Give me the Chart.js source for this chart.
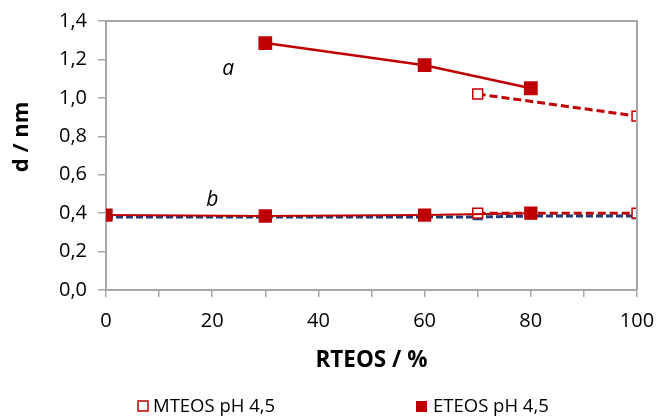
<!DOCTYPE html>
<html>
<head>
<meta charset="utf-8">
<script src="https://cdn.jsdelivr.net/npm/chart.js@4/dist/chart.umd.min.js"></script>
<style>
  body { margin: 0; background: #fff; }
  #wrap { width: 658px; height: 416px; }
</style>
</head>
<body>
<div id="wrap"><canvas id="pore-chart" width="658" height="416"></canvas></div>
<script>
// series a (upper branch)
var etA_x = [30, 60, 80];
var etA_y = [1.285, 1.17, 1.05];
var mtA_x = [70, 100];
var mtA_y = [1.02, 0.905];
// series b (lower branch)
var etB_x = [0, 30, 60, 80];
var etB_y = [0.39, 0.385, 0.39, 0.40];
var mtB_x = [70, 100];
var mtB_y = [0.40, 0.40];
var blue_x = [0, 30, 60, 70, 80, 100];
var blue_y = [0.38, 0.38, 0.38, 0.38, 0.385, 0.385];

var legendNames = ["MTEOS pH 4,5", "ETEOS pH 4,5"];
var xTicks = [0, 20, 40, 60, 80, 100];

var RED = "#c00000";
var NAVY = "#1f3b7a";
var AXIS = "#a6a6a6";
var FONT = "'Open Sans', sans-serif";

function pts(xs, ys) {
  return xs.map(function(x, i) { return { x: x, y: ys[i] }; });
}

function comma(v) {
  return v.toFixed(1).replace(".", ",");
}

// top and right edge of the plot area, y title, letters a/b, legend
var extras = {
  id: "extras",
  afterDraw: function(chart) {
    var c = chart.ctx, a = chart.chartArea;
    var sx = chart.scales.x, sy = chart.scales.y;
    c.save();
    c.strokeStyle = AXIS;
    c.lineWidth = 2;
    c.beginPath();
    c.moveTo(a.left, a.top);
    c.lineTo(a.right, a.top);
    c.lineTo(a.right, a.bottom);
    c.stroke();

    c.fillStyle = "#000";
    c.textAlign = "center";
    c.textBaseline = "middle";

    c.save();
    c.translate(22, 137);
    c.rotate(-Math.PI / 2);
    c.font = "bold 22px " + FONT;
    c.fillText("d / nm", 0, 0);
    c.restore();

    c.font = "italic 21px " + FONT;
    c.fillText("a", sx.getPixelForValue(23), sy.getPixelForValue(1.15));
    c.fillText("b", sx.getPixelForValue(20), sy.getPixelForValue(0.47));

    // legend
    var ly = 406;
    c.font = "18.5px " + FONT;
    c.textAlign = "left";
    c.lineWidth = 1.5;
    c.strokeStyle = RED;
    c.fillStyle = "#fff";
    c.fillRect(138, ly - 5, 10, 10);
    c.strokeRect(138, ly - 5, 10, 10);
    c.fillStyle = RED;
    c.fillRect(416, ly - 5, 11, 11);
    c.fillStyle = "#000";
    c.fillText(legendNames[0], 153, ly + 1);
    c.fillText(legendNames[1], 433, ly + 1);
    c.restore();
  }
};

var ctx = document.getElementById("pore-chart");
window.poreChart = new Chart(ctx, {
  type: "line",
  data: {
    datasets: [{
      data: pts(etA_x, etA_y),
      borderColor: RED, backgroundColor: RED, borderWidth: 2.5,
      pointStyle: "rect", pointRadius: 8
    }, {
      data: pts(mtA_x, mtA_y),
      borderColor: RED, backgroundColor: "#fff", borderWidth: 3, borderDash: [8, 4],
      pointStyle: "rect", pointRadius: 7, pointBorderWidth: 1.5
    }, {
      data: pts(etB_x, etB_y),
      borderColor: RED, backgroundColor: RED, borderWidth: 2,
      pointStyle: "rect", pointRadius: 8
    }, {
      data: pts(mtB_x, mtB_y),
      borderColor: RED, backgroundColor: "#fff", borderWidth: 3, borderDash: [8, 4],
      pointStyle: "rect", pointRadius: 7, pointBorderWidth: 1.5
    }, {
      data: pts(blue_x, blue_y),
      borderColor: NAVY, backgroundColor: "rgba(255,255,255,0)", borderWidth: 3, borderDash: [7, 3],
      pointStyle: "triangle", pointRadius: 5, pointBorderWidth: 1.3
    }]
  },
  options: {
    responsive: false,
    animation: false,
    layout: { padding: { left: 0, top: 21, right: 21, bottom: 42 } },
    plugins: {
      legend: { display: false },
      tooltip: { enabled: false }
    },
    scales: {
      x: {
        type: "linear", min: 0, max: 100,
        afterFit: function(s) {
          s.height = 84;
          s.paddingLeft = 0;
          s.paddingRight = 0;
        },
        border: { color: AXIS, width: 2 },
        grid: { drawOnChartArea: false, color: AXIS, tickLength: 7, lineWidth: 1.5 },
        ticks: {
          stepSize: 10, padding: 12, color: "#000",
          font: { family: FONT, size: 20 },
          callback: function(v) { return xTicks.indexOf(v) >= 0 ? v : ""; }
        },
        title: {
          display: true, text: "RTEOS / %", color: "#000", padding: 0,
          font: { family: FONT, size: 22.5, weight: "bold" }
        }
      },
      y: {
        min: 0, max: 1.4,
        afterFit: function(s) {
          s.width = 106;
          s.paddingTop = 0;
          s.paddingBottom = 0;
        },
        border: { color: AXIS, width: 2 },
        grid: { drawOnChartArea: false, color: AXIS, tickLength: 8, lineWidth: 1.5 },
        ticks: {
          stepSize: 0.2, padding: 11, color: "#000",
          font: { family: FONT, size: 20 },
          callback: function(v) { return comma(v); }
        }
      }
    }
  },
  plugins: [extras]
});
</script>
</body>
</html>
